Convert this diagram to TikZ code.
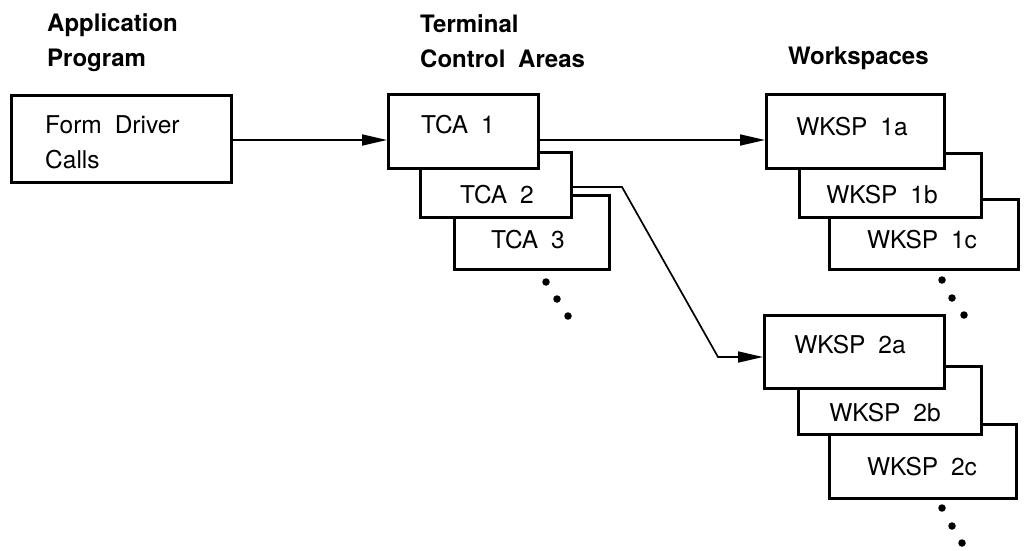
\documentclass[tikz,border=0pt]{standalone}
\usepackage{fontspec}
\setmainfont[WordSpace=1.9]{TeX Gyre Heros}
\usetikzlibrary{arrows.meta}
\begin{document}
\begin{tikzpicture}[x=1pt,y=-1pt,
 box/.style={draw, line width=2.5pt, fill=white, inner sep=0pt, anchor=north west},
 txt/.style={inner sep=0pt, font=\fontsize{24.5}{35}\selectfont, align=left},
 hdr/.style={inner sep=0pt, font=\fontsize{24}{35}\selectfont\bfseries, align=left, anchor=west},
 conn/.style={line width=1.7pt, -{Triangle[length=25pt,width=11pt]}},
 dot/.style={circle, fill=black, inner sep=0pt, minimum size=7.5pt}]
\useasboundingbox (0,0) rectangle (1025,550);
% headers
\node[hdr] (happ) at (47,42.5) {Application\\Program};
\node[hdr] (htca) at (420,41.5) {Terminal\\Control Areas};
\node[hdr] (hws) at (788,58) {Workspaces};
% application box
\node[box, minimum width=220pt, minimum height=87pt] (fdc) at (10,94) {};
\node[txt, anchor=west] (fdct) at (45,142.5) {Form Driver\\Calls};
% TCA boxes
\node[box, minimum width=155pt, minimum height=74pt] (tca3) at (453,194) {};
\node[box, minimum width=151pt, minimum height=65pt] (tca2) at (419,151) {};
\node[box, minimum width=150pt, minimum height=74pt] (tca1) at (387,93) {};
\node[txt] (tca1t) at (458,125) {TCA 1};
\node[txt] (tca2t) at (497,195) {TCA 2};
\node[txt] (tca3t) at (528,240) {TCA 3};
\node[dot] (td1) at (546,282) {};
\node[dot] (td2) at (557,299) {};
\node[dot] (td3) at (568,316) {};
% workspaces 1
\node[box, minimum width=189pt, minimum height=70pt] (w1c) at (828,198) {};
\node[box, minimum width=182pt, minimum height=64pt] (w1b) at (798,152) {};
\node[box, minimum width=178pt, minimum height=74pt] (w1a) at (765,93) {};
\node[txt] (w1at) at (852,127) {WKSP 1a};
\node[txt] (w1bt) at (882,195) {WKSP 1b};
\node[txt] (w1ct) at (922,240) {WKSP 1c};
\node[dot] (wd1) at (942,280) {};
\node[dot] (wd2) at (952,298) {};
\node[dot] (wd3) at (964,315) {};
% workspaces 2
\node[box, minimum width=187pt, minimum height=74pt] (w2c) at (828,423) {};
\node[box, minimum width=183pt, minimum height=68pt] (w2b) at (797,365) {};
\node[box, minimum width=180pt, minimum height=73pt] (w2a) at (763,314) {};
\node[txt] (w2at) at (850,345) {WKSP 2a};
\node[txt] (w2bt) at (885,413) {WKSP 2b};
\node[txt] (w2ct) at (922,467) {WKSP 2c};
\node[dot] (vd1) at (942,508) {};
\node[dot] (vd2) at (952,526) {};
\node[dot] (vd3) at (962,543) {};
% connectors
\coordinate (y140) at (0,140);
\coordinate (b1) at (622,187);
\coordinate (b2) at (718,357);
\draw[conn] (fdc.east |- y140) -- (tca1.west |- y140);
\draw[conn] (tca1.east |- y140) -- (w1a.west |- y140);
\draw[conn] (tca2.east |- b1) -- (b1) -- (b2) -- (w2a.west |- b2);
\end{tikzpicture}
\end{document}
